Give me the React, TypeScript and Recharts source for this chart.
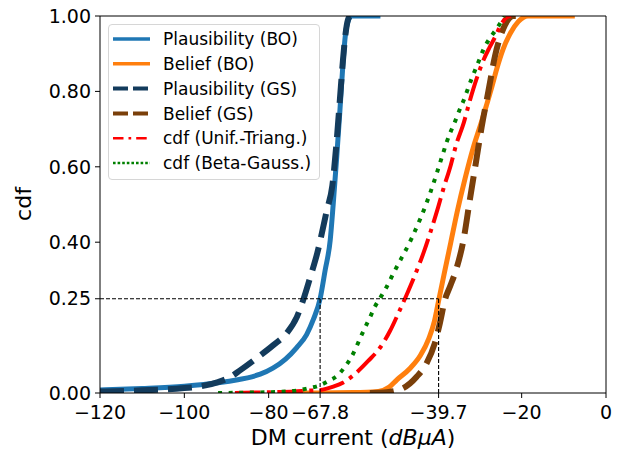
import React from 'react';
import { LineChart, Line, XAxis, YAxis, ReferenceLine, Legend, Label } from 'recharts';

// ---- data (x = DM current in dBuA, y = cdf) ----
const plausibilityBO: [number, number][] = [
  [-120, 0.008], [-110, 0.012], [-100, 0.018], [-92, 0.027], [-87, 0.036], [-84, 0.043], [-82, 0.05],
  [-79, 0.066], [-76, 0.09], [-73.4, 0.12], [-71, 0.155], [-69.4, 0.195], [-67.8, 0.25],
  [-66.6, 0.326], [-65.4, 0.406], [-64.7, 0.5], [-63.9, 0.62], [-63.1, 0.75], [-62.4, 0.87],
  [-61.8, 0.95], [-61.2, 0.985], [-60.3, 1], [-53.5, 1],
];
const beliefBO: [number, number][] = [
  [-72, 0], [-60, 0.001], [-54, 0.004], [-51.5, 0.015], [-49.6, 0.035], [-46.5, 0.065],
  [-44, 0.1], [-42, 0.145], [-40.7, 0.19], [-39.6, 0.25], [-38.3, 0.32], [-36.8, 0.4],
  [-35.3, 0.48], [-33.4, 0.57], [-31.5, 0.65], [-29.5, 0.72], [-28.3, 0.765], [-27.1, 0.811],
  [-25.9, 0.86], [-24.4, 0.912], [-22.8, 0.952], [-20.8, 0.985], [-18.5, 1], [-7.4, 1],
];
const plausibilityGS: [number, number][] = [
  [-120, 0.004], [-110, 0.007], [-100, 0.013], [-96, 0.018], [-92, 0.029], [-89, 0.043],
  [-86.8, 0.06], [-82.8, 0.093], [-78.9, 0.127], [-75.7, 0.159], [-73.3, 0.202], [-71.8, 0.247],
  [-70.2, 0.305], [-68.5, 0.37], [-66.2, 0.485], [-64.9, 0.55], [-63.9, 0.665], [-63.1, 0.78],
  [-62.4, 0.88], [-61.8, 0.95], [-61.2, 0.99], [-60.7, 1],
];
const beliefGS: [number, number][] = [
  [-56, 0], [-52, 0.002], [-48.1, 0.013], [-44.9, 0.043], [-42.5, 0.08], [-40.6, 0.132],
  [-39.4, 0.185], [-38.2, 0.247], [-36.9, 0.285], [-35.6, 0.325], [-33.8, 0.406], [-32.3, 0.512],
  [-30.8, 0.615], [-29.5, 0.705], [-27.9, 0.8], [-26.3, 0.895], [-24, 0.975], [-22, 1], [-20, 1],
];
const cdfUnifTriang: [number, number][] = [
  [-88, 0], [-80, 0.002], [-74, 0.004], [-71, 0.006], [-67.8, 0.008], [-64.7, 0.017],
  [-62.3, 0.028], [-59.1, 0.055], [-56.4, 0.085], [-53.6, 0.12], [-51.2, 0.165], [-49.3, 0.21],
  [-47.3, 0.26], [-45.3, 0.313], [-43.3, 0.371], [-41.6, 0.428], [-39.8, 0.493], [-38.6, 0.54],
  [-36.8, 0.605], [-35.6, 0.656], [-33.7, 0.718], [-32.4, 0.771], [-30.7, 0.833], [-29.1, 0.882],
  [-27.7, 0.915], [-26.3, 0.944], [-25, 0.975], [-23.5, 0.997], [-22.5, 1],
];
const cdfBetaGauss: [number, number][] = [
  [-92, 0], [-85, 0.001], [-78, 0.003], [-73, 0.007], [-70.8, 0.012], [-68.2, 0.019],
  [-65.6, 0.033], [-63.5, 0.048], [-61.9, 0.07], [-60.5, 0.093], [-59.3, 0.12], [-58.2, 0.148],
  [-57.2, 0.172], [-56, 0.2], [-54.8, 0.229], [-53.4, 0.255], [-52, 0.282], [-50.8, 0.309],
  [-49.6, 0.335], [-46.1, 0.41], [-41.9, 0.524], [-38.6, 0.637], [-37.8, 0.665], [-36.8, 0.694],
  [-35.8, 0.72], [-34.8, 0.749], [-33.8, 0.775], [-31.9, 0.833], [-31.1, 0.855], [-30, 0.885],
  [-29.1, 0.91], [-27.5, 0.942], [-26, 0.965], [-24.9, 0.985], [-24.2, 1],
];

const quantile25Plaus = -67.8;
const quantile25Belief = -39.7;
const quantileLevel = 0.25;

const xTicks = [-120, -100, -80, -67.8, -39.7, -20, 0];
const yTicks = [0, 0.25, 0.4, 0.6, 0.8, 1];

const toPts = (arr: [number, number][]) => arr.map(([x, y]) => ({ x, y }));

const FONT = 'DejaVu Sans';

type SeriesStyle = {
  name: string;
  data: [number, number][];
  color: string;
  width: number;
  dash?: string;
  legendWidth: number;
  legendDash?: string;
};

const series: SeriesStyle[] = [
  { name: 'Plausibility (BO)', data: plausibilityBO, color: '#1f77b4', width: 5, legendWidth: 3.5 },
  { name: 'Belief (BO)', data: beliefBO, color: '#ff7f0e', width: 5, legendWidth: 3.5 },
  { name: 'Plausibility (GS)', data: plausibilityGS, color: '#133b5c', width: 6, dash: '24 10', legendWidth: 4, legendDash: '15 5' },
  { name: 'Belief (GS)', data: beliefGS, color: '#7a3f0a', width: 6, dash: '24 10', legendWidth: 4, legendDash: '15 5' },
  { name: 'cdf (Unif.-Triang.)', data: cdfUnifTriang, color: '#ff0000', width: 4, dash: '25.6 6.4 4 6.4', legendWidth: 2.5, legendDash: '10.5 5 2.7 5' },
  { name: 'cdf (Beta-Gauss.)', data: cdfBetaGauss, color: '#008000', width: 4, dash: '4 6.6', legendWidth: 2.6, legendDash: '2.6 2' },
];

const LegendBox = () => (
  <div
    style={{
      width: 212,
      height: 156,
      boxSizing: 'border-box',
      border: '1px solid #d6d6d6',
      borderRadius: 4,
      background: 'rgba(255,255,255,0.85)',
    }}
  >
    <svg width={210} height={154} style={{ display: 'block' }}>
      {series.map((s, i) => {
        const y = 14 + i * 24.8;
        return (
          <g key={s.name}>
            <line x1={4} x2={41} y1={y} y2={y} stroke={s.color} strokeWidth={s.legendWidth} strokeDasharray={s.legendDash} />
            <text x={54} y={y} dy="0.36em" fontSize={17} fontFamily={FONT} fill="#000">
              {s.name}
            </text>
          </g>
        );
      })}
    </svg>
  </div>
);

const fmtX = (v: number) => String(v).replace('-', '\u2212');
const fmtY = (v: number) => v.toFixed(2);

const XLabel = () => (
  <text x={353} y={445} textAnchor="middle" fontSize={22} fontFamily={FONT} fill="#000">
    DM current (<tspan fontStyle="italic">dBμA</tspan>)
  </text>
);

const YLabel = () => (
  <text x={31} y={204} textAnchor="middle" fontSize={22} fontFamily={FONT} fill="#000" transform="rotate(-90, 31, 204)">
    cdf
  </text>
);

export default function App() {
  return (
    <div style={{ position: 'absolute', left: 0, top: 0, width: 620, height: 451, background: '#fff' }}>
      <LineChart width={620} height={451} margin={{ top: 16, right: 14, bottom: 0, left: 0 }}>
        <XAxis
          dataKey="x"
          type="number"
          domain={[-120, 0]}
          ticks={xTicks}
          interval={0}
          allowDataOverflow
          height={58}
          stroke="#000"
          tickSize={5}
          tickMargin={8}
          tickFormatter={fmtX}
          tick={{ fontSize: 19, fontFamily: FONT, fill: '#000' }}
        >
          <Label content={<XLabel />} />
        </XAxis>
        <YAxis
          dataKey="y"
          type="number"
          domain={[0, 1]}
          ticks={yTicks}
          interval={0}
          allowDataOverflow
          width={100}
          stroke="#000"
          tickSize={5}
          tickMargin={4}
          tickFormatter={fmtY}
          tick={{ fontSize: 19, fontFamily: FONT, fill: '#000' }}
        >
          <Label content={<YLabel />} />
        </YAxis>
        {series.map((s) => (
          <Line
            key={s.name}
            data={toPts(s.data)}
            dataKey="y"
            type="monotone"
            stroke={s.color}
            strokeWidth={s.width}
            strokeDasharray={s.dash}
            dot={false}
            activeDot={false}
            isAnimationActive={false}
            legendType="none"
          />
        ))}
        <ReferenceLine
          segment={[{ x: -120, y: quantileLevel }, { x: quantile25Belief, y: quantileLevel }]}
          stroke="#000"
          strokeWidth={1.1}
          strokeDasharray="4 2"
        />
        <ReferenceLine
          segment={[{ x: quantile25Plaus, y: 0 }, { x: quantile25Plaus, y: quantileLevel }]}
          stroke="#000"
          strokeWidth={1.1}
          strokeDasharray="4 2"
        />
        <ReferenceLine
          segment={[{ x: quantile25Belief, y: 0 }, { x: quantile25Belief, y: quantileLevel }]}
          stroke="#000"
          strokeWidth={1.1}
          strokeDasharray="4 2"
        />
        <ReferenceLine y={1} stroke="#000" strokeWidth={1} />
        <ReferenceLine x={0} stroke="#000" strokeWidth={1} />
        <Legend
          layout="vertical"
          align="center"
          verticalAlign="middle"
          content={() => <LegendBox />}
          wrapperStyle={{ left: 108, top: 24, width: 212, height: 156, right: 'auto', bottom: 'auto', margin: 0 }}
        />
      </LineChart>
    </div>
  );
}
